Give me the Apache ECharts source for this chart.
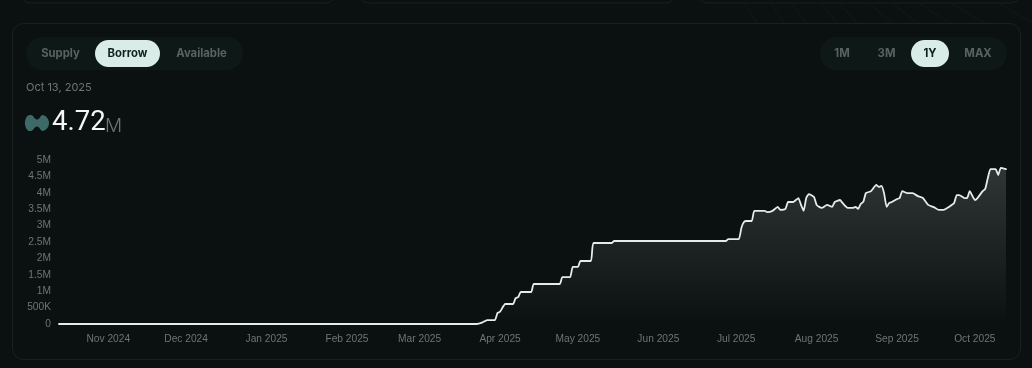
<!DOCTYPE html>
<html><head><meta charset="utf-8">
<style>html,body{margin:0;padding:0;background:#0a1110}#c{width:1032px;height:368px}</style>
<script src="https://cdn.jsdelivr.net/npm/echarts@6/dist/echarts.min.js"></script>
</head><body><div id="c"></div>
<script>
const dates = ['2024-10-13','2025-03-23','2025-03-25','2025-03-27','2025-03-30','2025-03-31','2025-04-01','2025-04-03','2025-04-06','2025-04-07','2025-04-08','2025-04-09','2025-04-13','2025-04-14','2025-04-24','2025-04-25','2025-04-28','2025-04-29','2025-05-01','2025-05-02','2025-05-06','2025-05-07','2025-05-14','2025-05-15','2025-06-27','2025-06-28','2025-07-02','2025-07-03','2025-07-04','2025-07-05','2025-07-07','2025-07-08','2025-07-12','2025-07-13','2025-07-15','2025-07-17','2025-07-18','2025-07-20','2025-07-21','2025-07-23','2025-07-24','2025-07-25','2025-07-26','2025-07-27','2025-07-28','2025-07-29','2025-07-31','2025-08-01','2025-08-02','2025-08-03','2025-08-05','2025-08-07','2025-08-08','2025-08-10','2025-08-11','2025-08-13','2025-08-15','2025-08-16','2025-08-17','2025-08-18','2025-08-19','2025-08-20','2025-08-22','2025-08-24','2025-08-25','2025-08-26','2025-08-27','2025-08-28','2025-08-29','2025-08-30','2025-09-01','2025-09-02','2025-09-03','2025-09-05','2025-09-07','2025-09-09','2025-09-11','2025-09-13','2025-09-15','2025-09-17','2025-09-19','2025-09-21','2025-09-23','2025-09-24','2025-09-25','2025-09-27','2025-09-28','2025-09-29','2025-10-01','2025-10-02','2025-10-04','2025-10-05','2025-10-06','2025-10-07','2025-10-09','2025-10-10','2025-10-11','2025-10-13'];
const borrow = [0,0,0.04,0.12,0.12,0.335,0.375,0.61,0.61,0.79,0.82,0.975,0.975,1.22,1.22,1.43,1.43,1.74,1.74,1.92,1.92,2.47,2.47,2.53,2.53,2.59,2.59,2.93,3.11,3.14,3.14,3.45,3.45,3.41,3.45,3.57,3.48,3.51,3.72,3.72,3.78,3.84,3.63,3.45,3.84,3.96,3.87,3.63,3.57,3.54,3.63,3.57,3.72,3.78,3.69,3.54,3.54,3.57,3.51,3.66,3.72,3.99,4.05,4.24,4.18,4.21,3.99,3.57,3.69,3.72,3.81,3.84,4.05,3.99,3.99,3.90,3.84,3.63,3.57,3.48,3.48,3.57,3.69,3.93,3.93,3.84,3.84,4.05,3.78,3.84,4.05,4.12,4.45,4.72,4.72,4.54,4.76,4.72];
const yTicks = ['0','500K','1M','1.5M','2M','2.5M','3M','3.5M','4M','4.5M','5M'];
const tabs = ['Supply','Borrow','Available'];
const ranges = ['1M','3M','1Y','MAX'];
const dateLabel = 'Oct 13, 2025';
const headline = '4.72';
const headlineUnit = 'M';

const UI = 'Inter, "Noto Sans", sans-serif';
const border = '#18221f';
const pill = (x,y,w,h,r,fill,stroke) => ({type:'rect',silent:true,shape:{x,y,width:w,height:h,r},style:{fill:fill||'transparent',stroke:stroke||null,lineWidth:1}});
const txt = (x,y,text,font,color,align) => ({type:'text',silent:true,x,y,style:{text,font,fill:color,align:align||'center',verticalAlign:'middle'}});
const tabX=[60.5,127.5,201.5], rangeX=[842,886.5,930,978];
const hatch = [[745,757],[772,784],[792,806],[822,837],[840,857],[870,892],[893,918],[920,950],[952,985],[1000,1032]];

const graphics = [
  pill(20.5,-20,315,23,10,null,border),
  pill(358.5,-20,317,23,10,null,border),
  pill(697.5,-20,323,23,10,null,border)
];
hatch.forEach(h=>graphics.push({type:'line',silent:true,shape:{x1:h[0],y1:4,x2:h[1],y2:23},style:{stroke:'#111a18',lineWidth:1}}));
graphics.push(
  pill(12.5,23.5,1008,336,11,'#0a1110',border),
  pill(26,37,217,33,16.5,'#0e1816'),
  pill(95,40,65,27,13.5,'#d9ece8'),
  pill(820,37,187,33,16.5,'#0e1816'),
  pill(911,40,38,27,13.5,'#d9ece8'),
  txt(26,87.5,dateLabel,'400 11px '+UI,'#6d7674','left'),
  {type:'polygon',silent:true,shape:{points:[[26,118],[31,115],[37,119.5],[43,115],[49,123],[43,131],[37,126.5],[31,131],[26,128]],smooth:0.5},style:{fill:'#3d6a66'}},
  txt(52,123,headline,'400 27.5px Roboto, sans-serif','#f4f7f6','left'),
  txt(105,126,headlineUnit,'300 19px '+UI,'#6b7472','left')
);
tabs.forEach((t,i)=>graphics.push(txt(tabX[i],53.5,t,'700 11.3px '+UI,t==='Borrow'?'#10201d':'#59635f')));
ranges.forEach((t,i)=>graphics.push(txt(rangeX[i],53.5,t,'700 11.3px '+UI,t==='1Y'?'#10201d':'#59635f')));

const chart = echarts.init(document.getElementById('c'),null,{renderer:'canvas'});
chart.setOption({
  backgroundColor:'#0a1110',
  animation:false,
  graphic:{elements:graphics},
  grid:{left:59,right:26,top:160,bottom:44,containLabel:false},
  xAxis:{type:'time',min:'2024-10-13',max:'2025-10-13',splitNumber:12,minInterval:28*864e5,maxInterval:31*864e5,
    axisLine:{show:false},axisTick:{show:false},splitLine:{show:false},
    axisLabel:{color:'#6d7674',fontSize:10.2,fontFamily:'"Liberation Sans",Arial,sans-serif',margin:10,showMinLabel:false,showMaxLabel:false,hideOverlap:false,
      formatter:v=>{const d=new Date(v);return d.toLocaleString('en-US',{month:'short',timeZone:'UTC'})+' '+d.getUTCFullYear();}}},
  yAxis:{type:'value',min:0,max:5,interval:0.5,
    axisLine:{show:false},axisTick:{show:false},splitLine:{show:false},
    axisLabel:{color:'#6d7674',fontSize:10.2,fontFamily:'"Liberation Sans",Arial,sans-serif',margin:8,formatter:(v)=>yTicks[Math.round(v*2)]}},
  series:[{type:'line',showSymbol:false,symbol:'none',smooth:0.15,
    data:dates.map((d,i)=>[d,borrow[i]]),
    lineStyle:{color:'#e4ecea',width:1.8,join:'round',cap:'round'},
    areaStyle:{color:new echarts.graphic.LinearGradient(0,0,0,1,[{offset:0,color:'rgba(255,255,255,0.22)'},{offset:1,color:'rgba(255,255,255,0)'}])}}]
});
</script></body></html>
